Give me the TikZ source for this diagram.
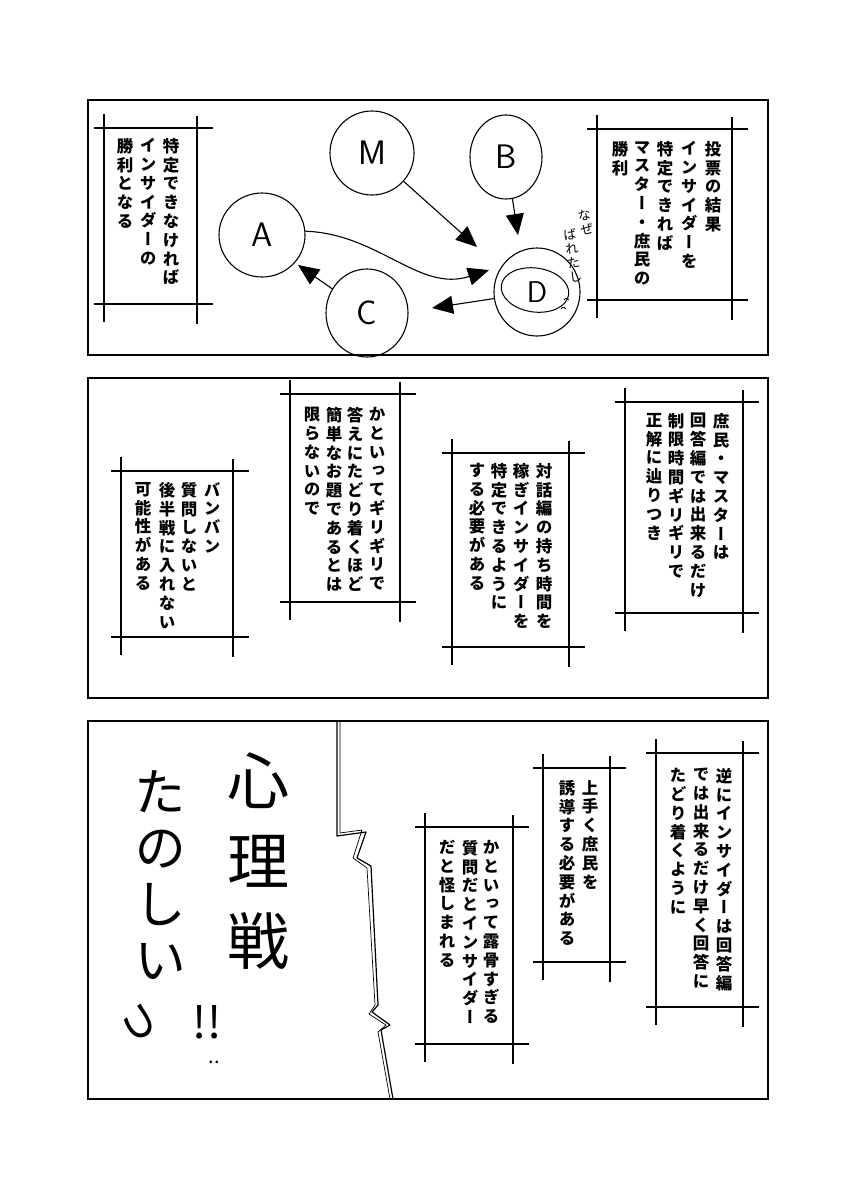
\documentclass[tikz,border=0pt]{standalone}
\usepackage{fontspec}
\usepackage{tikz}
\usetikzlibrary{arrows.meta}
\usetikzlibrary{shapes.geometric}
\newfontfamily\cjk[RawFeature=+vert]{Noto Sans CJK JP}
\newfontfamily\cjkh{Noto Sans CJK JP}
% one character per line
\newcommand\tate[1]{\tatex#1\relax}
\def\tatex#1{\ifx\relax#1\else#1\\\expandafter\tatex\fi}
% frame of a caption box: left, right, top, bottom
\newcommand\waku[4]{%
  \draw[wakul] (#1,#3-14) -- (#1,#4+18);
  \draw[wakul] (#2,#3-12) -- (#2,#4+20);
  \draw[wakul] (#1-10,#3) -- (#2+16,#3);
  \draw[wakul] (#1-10,#4) -- (#2+16,#4);}

\begin{document}
\begin{tikzpicture}[
    x = 1pt,
    y = -1pt,
    koma/.style = {draw, line width=2.4pt},
    wakul/.style = {draw, line width=1.2pt},
    tatel/.style = {
      anchor=north,
      inner sep=0pt,
      align=center,
      font=\cjk\bfseries\fontsize{16.5}{18.8}\selectfont
    },
    tegaki/.style = {
      anchor=north,
      inner sep=0pt,
      align=center,
      font=\cjk\fontsize{13}{14}\selectfont
    },
    maru/.style = {
      ellipse,
      draw,
      line width=1.1pt,
      inner sep=0pt,
      font=\sffamily\fontsize{34}{34}\selectfont
    },
    yaji/.style = {
      line width=1.1pt,
      -{Triangle[width=18pt,length=21pt]}
    }
  ]
  \useasboundingbox (0,0) rectangle (858,1200);

  % panel 1
  \draw[koma] (88,100) rectangle (768,355);
  \waku{104}{197}{128}{304}
  \node[tatel] (l1a) at (171,138) {\tate{特定できなければ}};
  \node[tatel] (l1b) at (148,138) {\tate{インサイダーの}};
  \node[tatel] (l1c) at (125,138) {\tate{勝利となる}};
  \waku{597}{732}{129}{300}
  \node[tatel] (r1a) at (713,141) {\tate{投票の結果}};
  \node[tatel] (r1b) at (689,141) {\tate{インサイダーを}};
  \node[tatel] (r1c) at (665,141) {\tate{特定できれば}};
  \node[tatel] (r1d) at (642,141) {\tate{マスター・庶民の}};
  \node[tatel] (r1e) at (620,141) {\tate{勝利}};

  \node[maru, minimum width=84pt, minimum height=84pt] (M) at (372,153) {M};
  \node[maru, minimum width=72pt, minimum height=84pt] (B) at (506,157) {B};
  \node[maru, minimum width=86pt, minimum height=84pt] (A) at (262,235) {A};
  \node[maru, minimum width=82pt, minimum height=88pt] (C) at (367,313) {C};
  \node[maru, minimum width=86pt, minimum height=88pt, font=\sffamily\fontsize{30}{30}\selectfont] (D) at (537,292) {D};
  \draw[line width=1pt, rotate around={-8:(535,290)}] (535,290) ellipse [x radius=34, y radius=22];
  \draw[line width=.8pt] (564,300) arc (200:340:2.5);
  \draw[line width=.8pt] (561,309) arc (200:340:2.5);
  \node[tegaki, rotate=12] (naze) at (583,210) {\tate{なぜ}};
  \node[tegaki, rotate=8] (bare) at (569,229) {\tate{ばれたし}};

  \coordinate (mt) at (477,247);
  \coordinate (bt) at (518,235);
  \coordinate (at) at (489,270);
  \coordinate (ct) at (432,308);
  \coordinate (cat) at (298,265);
  \draw[yaji] (M) -- (mt);
  \draw[yaji] (B) -- (bt);
  \draw[yaji] (A.5) to[out=-2, in=198] (at);
  \draw[yaji] (D) -- (ct);
  \draw[yaji] (C) -- (cat);

  % panel 2
  \draw[koma] (88,378) rectangle (768,698);
  \waku{625}{743}{402}{613}
  \node[tatel] (r2a) at (721,413) {\tate{庶民・マスターは}};
  \node[tatel] (r2b) at (698,413) {\tate{回答編では出来るだけ}};
  \node[tatel] (r2c) at (676,413) {\tate{制限時間ギリギリで}};
  \node[tatel] (r2d) at (654,413) {\tate{正解に辿りつき}};
  \waku{452}{569}{453}{647}
  \node[tatel] (s2a) at (544,463) {\tate{対話編の持ち時間を}};
  \node[tatel] (s2b) at (521,463) {\tate{稼ぎインサイダーを}};
  \node[tatel] (s2c) at (499,463) {\tate{特定できるように}};
  \node[tatel] (s2d) at (477,463) {\tate{する必要がある}};
  \waku{290}{400}{394}{602}
  \node[tatel] (t2a) at (377,407) {\tate{かといってギリギリで}};
  \node[tatel] (t2b) at (355,407) {\tate{答えにたどり着くほど}};
  \node[tatel] (t2c) at (334,407) {\tate{簡単なお題であるとは}};
  \node[tatel] (t2d) at (312,407) {\tate{限らないので}};
  \waku{121}{233}{471}{637}
  \node[tatel] (u2a) at (212,482) {\tate{バンバン}};
  \node[tatel] (u2b) at (189,482) {\tate{質問しないと}};
  \node[tatel] (u2c) at (167,482) {\tate{後半戦に入れない}};
  \node[tatel] (u2d) at (143,482) {\tate{可能性がある}};

  % panel 3
  \draw[koma] (88,721) rectangle (768,1099);
  \waku{656}{743}{753}{1007}
  \node[tatel] (r3a) at (724,768) {\tate{逆にインサイダーは回答編}};
  \node[tatel] (r3b) at (701,768) {\tate{では出来るだけ早く回答に}};
  \node[tatel] (r3c) at (678,768) {\tate{たどり着くように}};
  \waku{543}{610}{768}{962}
  \node[tatel] (s3a) at (590,780) {\tate{上手く庶民を}};
  \node[tatel] (s3b) at (567,780) {\tate{誘導する必要がある}};
  \waku{425}{513}{827}{1044}
  \node[tatel] (t3a) at (491,840) {\tate{かといって露骨すぎる}};
  \node[tatel] (t3b) at (470,840) {\tate{質問だとインサイダー}};
  \node[tatel] (t3c) at (447,840) {\tate{だと怪しまれる}};

  % crack
  \draw[line width=1.2pt, line join=round]
    (337,722) -- (337,836) -- (366,832) -- (357,858) -- (371,866)
    -- (378,1005) -- (372,1012) -- (390,1025) -- (381,1030) -- (393,1099);
  \draw[line width=.7pt, line join=round]
    (340,722) -- (340,833) -- (362,830) -- (353,858) -- (367,868)
    -- (375,1005) -- (369,1014) -- (386,1025) -- (378,1032) -- (390,1099);

  % shout
  \node[anchor=north, inner sep=0pt, align=center,
        font=\cjk\fontsize{62}{80}\selectfont] (sinri) at (258,752) {心\\理\\戦};
  \node[anchor=north, inner sep=0pt, align=center,
        font=\cjk\fontsize{52}{56}\selectfont] (tano) at (160,770) {た\\の\\し\\い};
  \node[inner sep=0pt, rotate=-75, font=\cjkh\fontsize{48}{48}\selectfont] (ttu) at (138,1022) {っ};
  \node[inner sep=0pt, font=\cjkh\fontsize{44}{44}\selectfont] (bang) at (207,1022) {!!};
  \node[inner sep=0pt, font=\cjkh\fontsize{20}{20}\selectfont] (ten) at (214,1062) {..};
\end{tikzpicture}
\end{document}
